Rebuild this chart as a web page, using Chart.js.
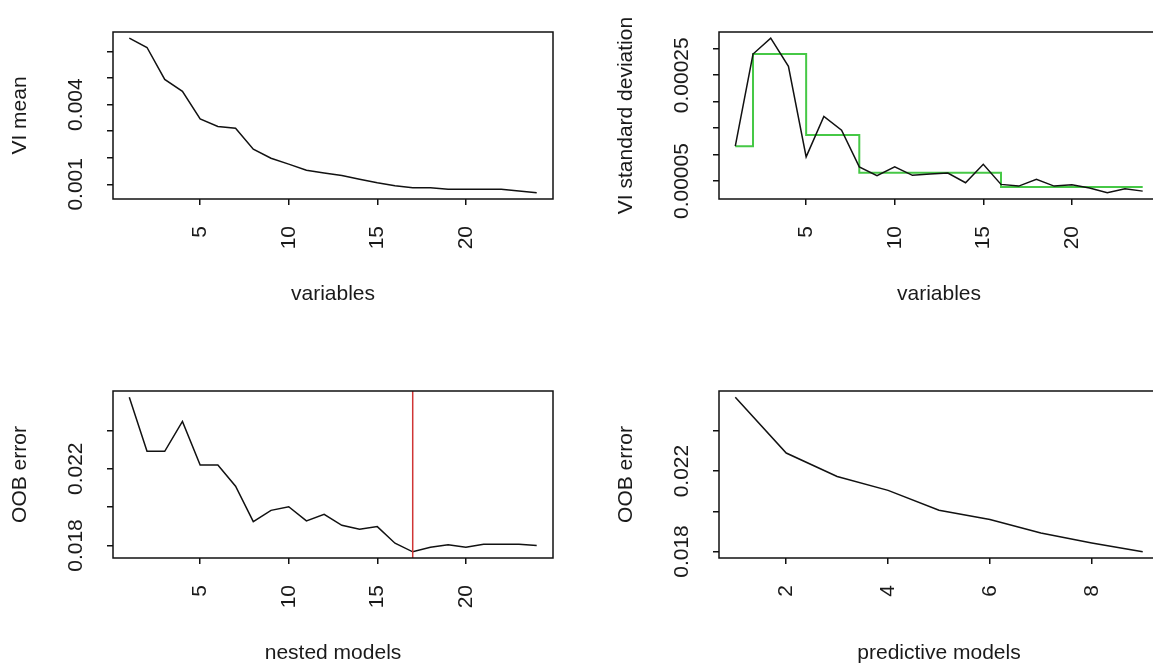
<!DOCTYPE html>
<html>
<head>
<meta charset="utf-8">
<script src="https://cdn.jsdelivr.net/npm/chart.js@4.4.1/dist/chart.umd.min.js"></script>
<style>
  html, body { margin: 0; padding: 0; background: #fff; overflow: hidden; width: 1153px; height: 666px; }
  canvas { position: absolute; }
</style>
</head>
<body>
<canvas id="viMeanChart" width="576" height="333" style="left:0;top:0"></canvas>
<canvas id="viSdChart" width="576" height="333" style="left:606px;top:0"></canvas>
<canvas id="nestedChart" width="576" height="333" style="left:0;top:359px"></canvas>
<canvas id="predChart" width="576" height="333" style="left:606px;top:359px"></canvas>
<script>
// x positions (variable rank / model index)
const variables = [1, 2, 3, 4, 5, 6, 7, 8, 9, 10, 11, 12, 13, 14, 15, 16, 17, 18, 19, 20, 21, 22, 23, 24];
const predModels = [1, 2, 3, 4, 5, 6, 7, 8, 9];

// VI mean per variable (sorted)
const viMean = [0.00650, 0.00615, 0.00495, 0.00450, 0.00346, 0.00318, 0.00311, 0.00232, 0.00198, 0.00176,
  0.00153, 0.00143, 0.00133, 0.00119, 0.00106, 0.00095, 0.00087, 0.00087, 0.00081, 0.00081,
  0.00081, 0.00081, 0.00075, 0.00068];

// VI standard deviation + CART threshold (green step)
const viSd = [0.000116, 0.000290, 0.000320, 0.000267, 0.0000957, 0.000172, 0.000146, 0.0000767, 0.0000602, 0.0000767,
  0.0000608, 0.0000633, 0.0000652, 0.0000468, 0.0000817, 0.0000437, 0.0000405, 0.0000532, 0.0000405, 0.0000430,
  0.0000367, 0.0000278, 0.0000354, 0.0000310];
const viSdFit = [0.000116, 0.000290, 0.000290, 0.000290, 0.000137, 0.000137, 0.000137, 0.0000659, 0.0000659, 0.0000659,
  0.0000659, 0.0000659, 0.0000659, 0.0000659, 0.0000659, 0.0000386, 0.0000386, 0.0000386, 0.0000386, 0.0000386,
  0.0000386, 0.0000386, 0.0000386, 0.0000386];

// OOB error of nested models, selected model
const oobNested = [0.02573, 0.02291, 0.02291, 0.02447, 0.02220, 0.02220, 0.02109, 0.019245, 0.019832, 0.020022,
  0.01928, 0.019625, 0.019054, 0.018847, 0.018985, 0.018121, 0.017672, 0.017914, 0.018035, 0.017914,
  0.018069, 0.018069, 0.018069, 0.018000];
const nestedSelected = 17;

// OOB error of predictive models
const oobPred = [0.025675, 0.022897, 0.02173, 0.02104, 0.020054, 0.019594, 0.01892, 0.018427, 0.017984];

// axis ticks and the labels R kept
const varTicks = [5, 10, 15, 20];
const predTicks = [2, 4, 6, 8];
const viMeanTicks = [0.001, 0.002, 0.003, 0.004, 0.005, 0.006];
const viMeanLabels = [0.001, 0.004];
const viSdTicks = [0.00005, 0.0001, 0.00015, 0.0002, 0.00025, 0.0003];
const viSdLabels = [0.00005, 0.00025];
const oobTicks = [0.018, 0.020, 0.022, 0.024];
const oobLabels = [0.018, 0.022];

const FONT = '"Liberation Sans", Arial, sans-serif';
const FONT_SIZE = 21;
const TEXT = '#1a1a1a';

function fmt(v) {
  return String(+v.toPrecision(6));
}

// R style range: data range + 4% each side
function padRange(values) {
  const lo = Math.min(...values), hi = Math.max(...values);
  const d = (hi - lo) * 0.04;
  return { min: lo - d, max: hi + d };
}

function points(xs, ys) {
  return xs.map((x, i) => ({ x, y: ys[i] }));
}

// box round the plot, rotated y labels, optional vertical marker
const rFrame = {
  id: 'rFrame',
  afterDraw(chart, args, opts) {
    const { ctx, chartArea: a, scales: { x, y } } = chart;
    ctx.save();
    if (opts.markX != null) {
      const px = x.getPixelForValue(opts.markX);
      ctx.strokeStyle = '#d03535';
      ctx.lineWidth = 1.5;
      ctx.beginPath();
      ctx.moveTo(px, a.top);
      ctx.lineTo(px, a.bottom);
      ctx.stroke();
    }
    ctx.strokeStyle = '#111';
    ctx.lineWidth = 1.5;
    ctx.strokeRect(a.left, a.top, a.right - a.left, a.bottom - a.top);

    ctx.fillStyle = TEXT;
    ctx.font = `${FONT_SIZE}px ${FONT}`;
    ctx.textAlign = 'center';
    ctx.textBaseline = 'alphabetic';
    (opts.yLabels || []).forEach(v => {
      const py = y.getPixelForValue(v);
      ctx.save();
      ctx.translate(a.left - 31, py);
      ctx.rotate(-Math.PI / 2);
      ctx.fillText(fmt(v), 0, 0);
      ctx.restore();
    });
    ctx.restore();
  }
};

function buildPanel(id, cfg) {
  const xr = padRange(cfg.xs);
  const yr = padRange(cfg.rangeFrom);
  const gridOpts = { drawOnChartArea: false, drawTicks: true, tickLength: 6, color: '#111', lineWidth: 1.5 };
  const titleFont = { family: FONT, size: FONT_SIZE };

  return new Chart(document.getElementById(id), {
    type: 'line',
    data: { datasets: cfg.datasets },
    options: {
      responsive: false,
      animation: false,
      layout: { padding: { left: 0, top: 32, right: 23, bottom: 0 } },
      elements: { point: { radius: 0 }, line: { tension: 0 } },
      plugins: {
        legend: { display: false },
        tooltip: { enabled: false },
        rFrame: { yLabels: cfg.yLabels, markX: cfg.markX }
      },
      scales: {
        x: {
          type: 'linear',
          min: xr.min,
          max: xr.max,
          afterBuildTicks: s => { s.ticks = cfg.xTicks.map(v => ({ value: v })); },
          afterFit: s => { s.height = 134; },
          grid: gridOpts,
          border: { display: false },
          ticks: {
            minRotation: 90, maxRotation: 90, padding: 21, color: TEXT,
            font: titleFont, callback: v => fmt(v)
          },
          title: { display: true, text: cfg.xTitle, color: TEXT, font: titleFont, padding: { top: 0, bottom: 26 } }
        },
        y: {
          type: 'linear',
          min: yr.min,
          max: yr.max,
          afterBuildTicks: s => { s.ticks = cfg.yTicks.map(v => ({ value: v })); },
          afterFit: s => { s.width = 113; },
          grid: gridOpts,
          border: { display: false },
          ticks: { display: false },
          title: { display: true, text: cfg.yTitle, color: TEXT, font: titleFont, padding: { top: 8, bottom: 0 } }
        }
      }
    },
    plugins: [rFrame]
  });
}

const blackLine = { borderColor: '#111', borderWidth: 1.5, fill: false };

buildPanel('viMeanChart', {
  xs: variables, rangeFrom: viMean,
  datasets: [{ ...blackLine, data: points(variables, viMean) }],
  xTicks: varTicks, yTicks: viMeanTicks, yLabels: viMeanLabels,
  xTitle: 'variables', yTitle: 'VI mean'
});

buildPanel('viSdChart', {
  xs: variables, rangeFrom: viSd,
  datasets: [
    { ...blackLine, data: points(variables, viSd) },
    { borderColor: '#46c846', borderWidth: 2, fill: false, stepped: 'before', data: points(variables, viSdFit) }
  ],
  xTicks: varTicks, yTicks: viSdTicks, yLabels: viSdLabels,
  xTitle: 'variables', yTitle: 'VI standard deviation'
});

buildPanel('nestedChart', {
  xs: variables, rangeFrom: oobNested,
  datasets: [{ ...blackLine, data: points(variables, oobNested) }],
  xTicks: varTicks, yTicks: oobTicks, yLabels: oobLabels, markX: nestedSelected,
  xTitle: 'nested models', yTitle: 'OOB error'
});

buildPanel('predChart', {
  xs: predModels, rangeFrom: oobPred,
  datasets: [{ ...blackLine, data: points(predModels, oobPred) }],
  xTicks: predTicks, yTicks: oobTicks, yLabels: oobLabels,
  xTitle: 'predictive models', yTitle: 'OOB error'
});
</script>
</body>
</html>
